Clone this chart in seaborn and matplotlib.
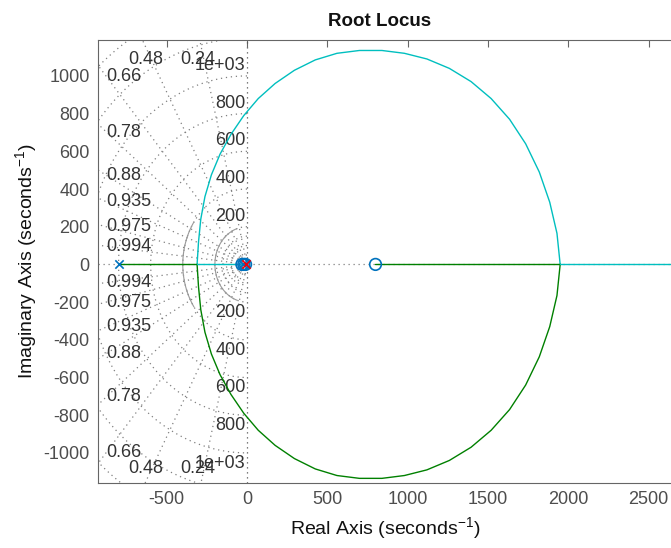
import numpy as np
import matplotlib
matplotlib.use("Agg")
import matplotlib.pyplot as plt
import seaborn as sns

# s-plane grid levels
zeta_levels = [0.24, 0.48, 0.66, 0.78, 0.88, 0.935, 0.975, 0.994]
zeta_labels = ["0.24", "0.48", "0.66", "0.78", "0.88", "0.935", "0.975", "0.994"]
wn_levels = [200, 400, 600, 800, 1000]
wn_labels = ["200", "400", "600", "800", "1e+03"]
wn_fine = [50, 100, 150]

# open-loop poles and zeros
pole_re = [-800, -22, -6]
pole_col = ["#0072BD", "#0072BD", "#E8000B"]
zero_re = [800, -32, -20, -9]

# complex branch pair (upper half / lower half)
upper_re = [-311, -302, -288, -262, -222, -168, -100, -20, 70, 175, 295, 425,
            560, 700, 840, 980, 1120, 1260, 1395, 1520, 1635, 1735, 1820,
            1885, 1930, 1950]
upper_im = [0, 120, 240, 360, 475, 585, 690, 790, 880, 960, 1030, 1085,
            1120, 1135, 1135, 1120, 1090, 1040, 970, 880, 770, 640, 490,
            330, 165, 0]
lower_re = [-311, -302, -288, -262, -222, -168, -100, -20, 70, 175, 295, 425,
            560, 700, 840, 980, 1120, 1260, 1395, 1520, 1635, 1735, 1820,
            1885, 1930, 1950]
lower_im = [0, -120, -240, -360, -475, -585, -690, -790, -880, -960, -1030,
            -1085, -1120, -1135, -1135, -1120, -1090, -1040, -970, -880, -770,
            -640, -490, -330, -165, 0]

# real-axis branches
green_axis_a = [-800, -311]
cyan_axis_a = [-311, -15]
green_axis_b = [800, 1950]
cyan_axis_b = [1950, 2750]

xticks = [-500, 0, 500, 1000, 1500, 2000, 2500]
yticks = [-1000, -800, -600, -400, -200, 0, 200, 400, 600, 800, 1000]

CYAN = "#00BFBF"
GREEN = "#008000"
GRID = "#808080"
LBL = "#333333"

sns.set_style("white")
plt.rcParams["font.family"] = ["Liberation Sans Narrow", "Liberation Sans", "DejaVu Sans"]
plt.rcParams["axes.unicode_minus"] = False

fig = plt.figure(figsize=(6.71, 5.48), dpi=100)
AX_W = 690 - 98
ax = fig.add_axes([98 / 671, 65.5 / 548, AX_W / 671, 442.2 / 548])
XMIN, XMAX = -928, (690 - 247) / 0.1606
YMIN, YMAX = -1157, 1189

dots = (0, (1, 3))

# damping-ratio rays
for z in zeta_levels:
    t = np.tan(np.arccos(z))
    for s in (1, -1):
        ax.plot([0, XMIN * 1.05], [0, -s * t * XMIN * 1.05], color=GRID,
                lw=0.9, ls=dots, zorder=1)

# natural-frequency half circles
th = np.linspace(np.pi / 2, 3 * np.pi / 2, 300)
for w in wn_levels + [1200, 1400] + wn_fine:
    ax.plot(w * np.cos(th), w * np.sin(th), color=GRID, lw=0.9, ls=dots, zorder=1)
for w, lim in ((200, 190), (400, 225)):
    a = np.arcsin(lim / w)
    ts = np.linspace(np.pi - a, np.pi + a, 100)
    ax.plot(w * np.cos(ts), w * np.sin(ts), color="#9a9a9a", lw=0.8, zorder=1)

# axes through the origin
ax.axhline(0, color=GRID, lw=0.9, ls=dots, zorder=1)
ax.axvline(0, color="#555555", lw=0.9, ls=dots, zorder=1)

# grid labels
lfs = 13
for z, lab in zip(zeta_levels, zeta_labels):
    t = np.tan(np.arccos(z))
    if z < 0.6:
        xr = -1085 / t - 38
        for s in (1, -1):
            ax.text(xr, s * 1085, lab, ha="center", va="center",
                    fontsize=lfs, color=LBL, zorder=2)
    else:
        for s in (1, -1):
            ax.text(-875, s * 875 * t, lab, ha="left", va="center",
                    fontsize=lfs, color=LBL, zorder=2)
for w, lab in zip(wn_levels, wn_labels):
    for s in (1, -1):
        ax.text(-10, s * (w + 55), lab, ha="right", va="center",
                fontsize=lfs, color=LBL, zorder=2)

# locus branches
def branch(xs, ys, c):
    sns.lineplot(x=xs, y=ys, sort=False, estimator=None, color=c, lw=1.0,
                 ax=ax, zorder=3)

branch(upper_re, upper_im, CYAN)
branch(lower_re, lower_im, GREEN)
branch(green_axis_a, [0, 0], GREEN)
branch(cyan_axis_a, [0, 0], CYAN)
branch(green_axis_b, [0, 0], GREEN)
branch(cyan_axis_b, [0, 0], CYAN)

# poles and zeros
sns.scatterplot(x=zero_re, y=[0] * len(zero_re), marker="o", s=70,
                facecolor="none", edgecolor="#0072BD", linewidth=1.2,
                ax=ax, zorder=4)
for pr, pc in zip(pole_re, pole_col):
    sns.scatterplot(x=[pr], y=[0], marker="x", s=36, color=pc,
                    linewidth=1.2, ax=ax, zorder=5)

ax.set_xlim(XMIN, XMAX)
ax.set_ylim(YMIN, YMAX)
ax.set_xticks(xticks)
ax.set_xticklabels([str(v) for v in xticks])
ax.set_yticks(yticks)
ax.set_yticklabels([str(v) for v in yticks])
ax.tick_params(direction="in", length=5, width=0.8, colors="#666666",
               labelcolor="#4d4d4d", labelsize=13, top=True, right=True, pad=6)
for sp in ax.spines.values():
    sp.set_color("#666666")
    sp.set_linewidth(0.8)

ax.set_title("Root Locus", fontsize=13.5, fontweight="bold", pad=10, color="#111111")
ax.set_xlabel(r"Real Axis (seconds$^{\mathregular{-1}}$)", fontsize=14, color="#111111")
ax.set_ylabel(r"Imaginary Axis (seconds$^{\mathregular{-1}}$)", fontsize=14, color="#111111")
ax.title.set_position(((380 - 98) / AX_W, 1))
ax.xaxis.set_label_coords((385 - 98) / AX_W, -0.075)
ax.yaxis.set_label_coords(-(98 - 40) / AX_W, 0.5)

fig.savefig("out.png", dpi=100)
